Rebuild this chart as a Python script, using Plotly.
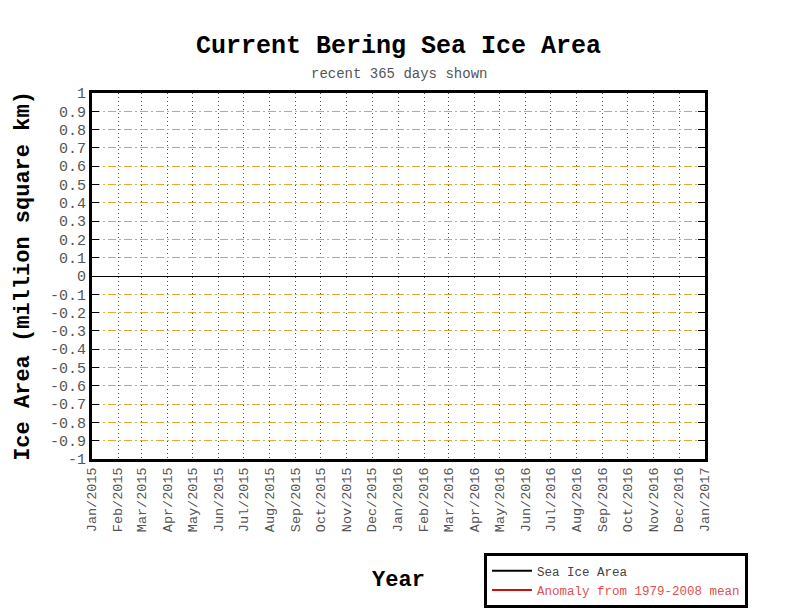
import plotly.graph_objects as go

# ---- data ----
x_start = "2015-01-01"
x_end = "2017-01-01"
y_min = -1.0
y_max = 1.0
y_tick_values = [round(-1.0 + 0.1 * i, 1) for i in range(21)]
y_tick_labels = [("%g" % v) for v in y_tick_values]
series_names = ["Sea Ice Area", "Anomaly from 1979-2008 mean"]
series_colors = ["#000000", "#cc1010"]
series_label_colors = ["#444444", "#e05050"]

FONT = "Liberation Mono, Courier New, monospace"

fig = go.Figure()
for name, col, lcol in zip(series_names, series_colors, series_label_colors):
    fig.add_trace(go.Scatter(
        x=[None], y=[None], mode="lines",
        name="<span style='color:%s'>%s</span>" % (lcol, name),
        line=dict(color=col, width=2),
    ))

fig.update_layout(
    width=792, height=612,
    margin=dict(l=92, r=87, t=93, b=153, autoexpand=False),
    paper_bgcolor="white", plot_bgcolor="white",
    font=dict(family=FONT, color="#444444"),
    title=dict(
        text="<b>Current Bering Sea Ice Area</b>",
        x=0.5, xanchor="center", xref="paper",
        y=1 - 44 / 612, yanchor="middle", yref="container",
        font=dict(family=FONT, size=25, color="#000000"),
    ),
    annotations=[dict(
        text="recent 365 days shown", x=0.5, y=(459 - 74) / 366,
        xref="paper", yref="paper", showarrow=False,
        xanchor="center", yanchor="middle",
        font=dict(family=FONT, size=14, color="#555555"),
    )],
    showlegend=True,
    legend=dict(
        x=(484 - 92) / 613, xanchor="left",
        y=(459 - 553) / 366, yanchor="top",
        bordercolor="#000000", borderwidth=3, bgcolor="white",
        font=dict(family=FONT, size=12.5, color="#444444"),
        tracegroupgap=0, itemwidth=40,
    ),
)

fig.update_xaxes(
    type="date", range=[x_start, x_end],
    tick0=x_start, dtick="M1", tickformat="%b/%Y", tickangle=-90,
    tickfont=dict(family=FONT, size=13.5, color="#555555"),
    showgrid=True, gridcolor="#0a7a0a", griddash="1px,3px", gridwidth=1,
    showline=True, linecolor="#000000", linewidth=3, mirror=True,
    ticks="", zeroline=False,
    title=dict(text="<b>Year</b>", font=dict(family=FONT, size=22, color="#000000"), standoff=40),
    automargin=False,
)
fig.update_yaxes(
    range=[y_min, y_max], tickvals=y_tick_values, ticktext=y_tick_labels,
    tickfont=dict(family=FONT, size=15, color="#555555"),
    showgrid=True, gridcolor="#e0a830", griddash="8px,3px,2px,3px", gridwidth=1,
    zeroline=True, zerolinecolor="#000000", zerolinewidth=1,
    showline=True, linecolor="#000000", linewidth=3, mirror="ticks",
    ticks="inside", ticklen=7, tickwidth=1, tickcolor="#000000",
    title=dict(text="<b>Ice Area (million square km)</b>", font=dict(family=FONT, size=22, color="#000000"), standoff=15),
    automargin=False,
)

fig.write_html("out.html", config={"displayModeBar": False},
               post_script="document.body.style.margin='0px';")
